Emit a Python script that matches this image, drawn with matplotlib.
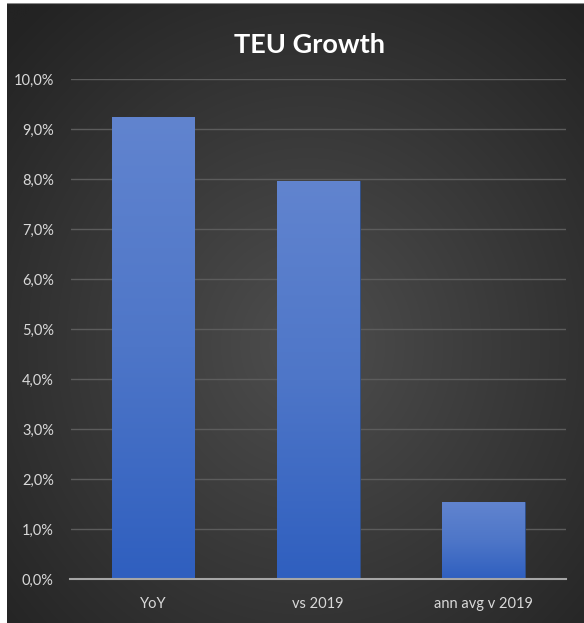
import numpy as np
import matplotlib
matplotlib.use("Agg")
import matplotlib.pyplot as plt
from matplotlib.colors import LinearSegmentedColormap

categories = ["YoY", "vs 2019", "ann avg v 2019"]
values = [9.25, 7.96, 1.54]
yticks = [0, 1, 2, 3, 4, 5, 6, 7, 8, 9, 10]
ytick_labels = ["0,0%", "1,0%", "2,0%", "3,0%", "4,0%", "5,0%", "6,0%", "7,0%", "8,0%", "9,0%", "10,0%"]
title = "TEU Growth"

W, H = 584, 623
fig = plt.figure(figsize=(W / 100, H / 100), dpi=100)
fig.patch.set_facecolor("white")

# dark background panel with radial gradient
bg = fig.add_axes([7 / W, 0, (W - 7) / W, (H - 3) / H])
bg.set_axis_off()
ny, nx = 300, 300
yy, xx = np.mgrid[0:ny, 0:nx]
cx, cy = nx * 0.52, ny * 0.55
r = np.sqrt(((xx - cx) / nx) ** 2 + ((yy - cy) / ny) ** 2)
r = np.clip(r / 0.72, 0, 1)
inner = np.array([0x4e, 0x4e, 0x4e]) / 255
outer = np.array([0x23, 0x23, 0x23]) / 255
img = inner[None, None, :] * (1 - r[..., None]) + outer[None, None, :] * r[..., None]
bg.imshow(img, aspect="auto", extent=[0, 1, 0, 1], interpolation="bilinear")
bg.set_xlim(0, 1)
bg.set_ylim(0, 1)
bg.axhline(1, color="#8a8a8a", lw=1.5)

ax = fig.add_axes([70.5 / W, (H - 579) / H, (566 - 70.5) / W, (579 - 79) / H])
ax.set_facecolor("none")
x = np.arange(len(categories))
bars = ax.bar(x, values, width=0.5, color="#4472c4", edgecolor="#2f4f8a", linewidth=0.6, zorder=3)

cmap = LinearSegmentedColormap.from_list("bar", ["#2f5fbf", "#4e76c8", "#6184cf"])
grad = np.linspace(0, 1, 256).reshape(-1, 1)
for b in bars:
    x0, y0 = b.get_x(), b.get_y()
    w, h = b.get_width(), b.get_height()
    im = ax.imshow(grad, cmap=cmap, aspect="auto", origin="lower",
                   extent=[x0, x0 + w, y0, y0 + h], zorder=3.5)
    im.set_clip_path(b)

ax.set_xlim(-0.5, len(categories) - 0.5)
ax.set_ylim(0, 10)
ax.set_yticks(yticks)
ax.set_yticklabels(ytick_labels)
ax.set_xticks(x)
ax.set_xticklabels(categories)
ax.grid(axis="y", color="#5c5c5c", lw=1.0, zorder=0)
ax.set_axisbelow(True)
for s in ["top", "right", "left"]:
    ax.spines[s].set_visible(False)
ax.spines["bottom"].set_color("#a6a6a6")
ax.spines["bottom"].set_linewidth(1.5)
ax.spines["bottom"].set_zorder(5)
ax.tick_params(axis="both", length=0, colors="#d9d9d9", labelsize=10.5)
ax.tick_params(axis="y", pad=12)
ax.tick_params(axis="x", pad=13)
for t in ax.get_xticklabels() + ax.get_yticklabels():
    t.set_family(["Lato", "DejaVu Sans"])

# title with slight letter spacing
tx = fig.text(310 / W, 1 - 45 / H, title, ha="center", va="center", color="white",
              fontsize=19.5, fontweight="bold", family=["Lato", "DejaVu Sans"])

fig.savefig("out.png", dpi=100, facecolor=fig.get_facecolor())
